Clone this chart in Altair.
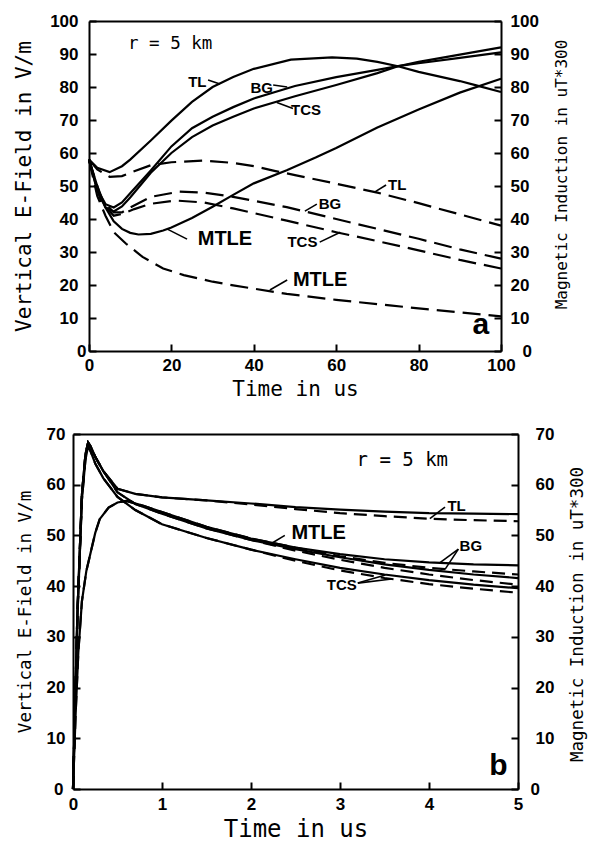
import altair as alt
import pandas as pd

# ================= panel a : 0 - 100 us =================
A_TL_E_T = [0, 2, 5, 8, 10, 15, 20, 25, 30, 35, 40, 49, 59, 65, 70, 75, 80, 90, 94, 100]
A_TL_E_V = [58, 55.5, 54.2, 56, 58, 63.8, 69.8, 75.5, 80, 83, 85.5, 88.3, 89, 88.6, 87.6, 86.3, 84.6, 81.8, 80.5, 78.5]
A_BG_E_T = [0, 2, 4, 6, 8, 10, 15, 20, 25, 30, 35, 40, 50, 60, 70, 75, 80, 90, 100]
A_BG_E_V = [58, 49, 44.5, 43.5, 45, 47.8, 54.7, 62, 67.5, 71, 73.9, 76.5, 80.3, 83, 85.2, 86.3, 87.2, 88.8, 90.5]
A_TCS_E_T = [0, 2, 4, 6, 8, 10, 15, 20, 25, 30, 35, 40, 50, 60, 70, 75, 80, 90, 100]
A_TCS_E_V = [58, 48.5, 43.5, 42.3, 43.8, 46.5, 54, 60, 64.8, 68.3, 71, 73.5, 77.2, 80.6, 84.2, 86.3, 87.6, 89.8, 92]
A_MTLE_E_T = [0, 2, 4, 6, 8, 10, 12, 15, 18, 20, 25, 30, 35, 40, 48, 55, 60, 70, 80, 90, 100]
A_MTLE_E_V = [58, 50, 43.5, 39.3, 37, 35.8, 35.3, 35.5, 36.5, 37.4, 40.3, 43.7, 47.3, 50.8, 54.8, 58.6, 61.5, 67.7, 73.2, 78.3, 82.5]

A_TL_B_T = [0, 2, 5, 8, 10, 15, 20, 28, 35, 40, 45, 50, 60, 70, 80, 90, 100]
A_TL_B_V = [58, 55, 52.8, 53, 54, 56.3, 57.2, 57.7, 57, 56, 54.6, 53.3, 50.7, 48, 44.8, 41.4, 38]
A_BG_B_T = [0, 3, 6, 8, 10, 15, 22, 28, 35, 40, 48, 60, 70, 80, 90, 100]
A_BG_B_V = [58, 46, 42, 42, 43.5, 46.7, 48.3, 48, 46.7, 45.5, 43.6, 40, 37, 34, 30.8, 28]
A_TCS_B_T = [0, 3, 6, 8, 11, 15, 21, 28, 35, 40, 48, 60, 70, 80, 90, 100]
A_TCS_B_V = [58, 45, 41, 41.5, 43, 44.6, 45.6, 45, 43.2, 41.8, 39.5, 36, 33.3, 30.5, 27.6, 25]
A_MTLE_B_T = [0, 2, 4, 6, 9, 13, 18, 23, 30, 35, 48, 60, 73, 85, 100]
A_MTLE_B_V = [58, 47, 41, 36, 32.5, 28.5, 25, 23, 21, 19.9, 17.3, 15.5, 13.8, 12.3, 10.5]

A_NOTE_TEXT = ["TL", "BG", "TCS", "TL", "BG", "TCS"]
A_NOTE_T = [26.3, 41.9, 52.7, 74.8, 58.5, 51.8]
A_NOTE_V = [81.5, 79.7, 73.0, 50.3, 44.5, 33.0]
A_BIG_TEXT = ["MTLE", "MTLE"]
A_BIG_T = [33.0, 56.1]
A_BIG_V = [34.0, 21.5]
A_MONO_TEXT = ["r = 5 km"]
A_MONO_T = [19.7]
A_MONO_V = [93.0]
A_LETTER_TEXT = ["a"]
A_LETTER_T = [95.1]
A_LETTER_V = [7.9]
A_LEAD_T1 = [28.9, 44.7, 45.6, 18.9, 56.0, 52.4, 69.4, 43.9]
A_LEAD_V1 = [82.1, 80.6, 75.3, 37.0, 33.0, 42.4, 48.2, 18.5]
A_LEAD_T2 = [31.8, 48.1, 49.5, 23.8, 61.0, 55.3, 72.1, 48.1]
A_LEAD_V2 = [80.9, 80.0, 73.5, 33.9, 36.0, 44.5, 50.3, 21.5]

A_XTICKS = [0, 20, 40, 60, 80, 100]
A_YTICKS = [0, 10, 20, 30, 40, 50, 60, 70, 80, 90, 100]

# ================= panel b : 0 - 5 us =================
B_T = [0, 0.05, 0.1, 0.14, 0.17, 0.2, 0.25, 0.34, 0.5, 0.7, 1, 1.5, 2, 2.5, 3, 3.5, 4, 4.5, 5]
B_TL_E_V = [0, 35, 58, 66, 68.3, 67.5, 65.5, 62.7, 59.2, 58.2, 57.5, 56.9, 56.3, 55.6, 55.1, 54.7, 54.4, 54.3, 54.2]
B_MTLE_E_V = [0, 35, 58, 66, 68.3, 67.5, 65.5, 62.7, 58.5, 56.2, 54.3, 51.4, 49.1, 47.3, 45.7, 44.3, 43.2, 42.3, 41.6]
B_TCS_E_V = [0, 34, 57, 65, 67.6, 66.5, 64.2, 61.3, 57.6, 55, 52.2, 49.5, 47.2, 45.3, 43.6, 42.3, 41.2, 40.3, 39.6]
B_TL_B_V = [0, 35, 58, 66, 68.3, 67.5, 65.5, 62.7, 59.2, 58.2, 57.5, 56.9, 56.1, 55.2, 54.4, 53.8, 53.3, 53.0, 52.8]
B_MTLE_B_V = [0, 35, 58, 66, 68.3, 67.5, 65.5, 62.7, 58.5, 56.2, 54.3, 51.4, 49.1, 47.0, 45.2, 43.6, 42.3, 41.2, 40.3]
B_TCS_B_V = [0, 34, 57, 65, 67.6, 66.5, 64.2, 61.3, 57.6, 55, 52.2, 49.5, 47.2, 45.0, 43.1, 41.6, 40.4, 39.5, 38.7]
B_BG_T = [0, 0.03, 0.06, 0.1, 0.15, 0.19, 0.25, 0.3, 0.4, 0.5, 0.6, 0.8, 1, 1.5, 2, 2.5, 3, 3.5, 4, 4.5, 5]
B_BG_E_V = [0, 15, 27, 37, 43, 46, 50.5, 53.2, 55.5, 56.5, 56.8, 55.8, 54.6, 51.7, 49.4, 47.6, 46.3, 45.3, 44.7, 44.3, 44.1]
B_BG_B_V = [0, 15, 27, 37, 43, 46, 50.5, 53.2, 55.5, 56.5, 56.8, 55.8, 54.6, 51.7, 49.4, 47.6, 45.9, 44.6, 43.6, 42.9, 42.3]

B_NOTE_TEXT = ["TL", "BG", "TCS"]
B_NOTE_T = [4.31, 4.47, 3.02]
B_NOTE_V = [55.8, 47.9, 40.2]
B_BIG_TEXT = ["MTLE"]
B_BIG_T = [2.76]
B_BIG_V = [50.5]
B_MONO_TEXT = ["r = 5 km"]
B_MONO_T = [3.70]
B_MONO_V = [64.9]
B_LETTER_TEXT = ["b"]
B_LETTER_T = [4.78]
B_LETTER_V = [4.5]
B_LEAD_T1 = [4.01, 2.21, 4.12, 4.18, 3.20, 3.20]
B_LEAD_V1 = [53.3, 48.2, 44.6, 43.3, 40.6, 40.6]
B_LEAD_T2 = [4.18, 2.38, 4.33, 4.33, 3.51, 3.58]
B_LEAD_V2 = [55.6, 50.0, 47.3, 47.3, 42.2, 41.4]

B_XTICKS = [0, 1, 2, 3, 4, 5]
B_YTICKS = [0, 10, 20, 30, 40, 50, 60, 70]


def series(pairs):
    rows = []
    for name, ts, vs in pairs:
        for i, (t, v) in enumerate(zip(ts, vs)):
            rows.append({"model": name, "t": t, "v": v, "i": i})
    return pd.DataFrame(rows)


def points(texts, ts, vs):
    return pd.DataFrame({"label": texts, "t": ts, "v": vs})


def leaders(t1, v1, t2, v2):
    return pd.DataFrame({"t": t1, "v": v1, "t2": t2, "v2": v2})


LABEL_FONT = "Liberation Sans"
MONO = "DejaVu Sans Mono"


def sc(dom, rng=None):
    if rng is None:
        return alt.Scale(domain=dom, nice=False, zero=False)
    return alt.Scale(domain=dom, range=rng, nice=False, zero=False)


def zero_pad(zero_value, other):
    return {"condition": {"test": "datum.value === 0", "value": zero_value}, "value": other}


def panel(e_df, b_df, notes, big, mono, letter, lead, cfg):
    xdom, ydom, xr = cfg["xdom"], cfg["ydom"], cfg["xrange"]
    lab = dict(labelFont=LABEL_FONT, labelFontSize=17, labelFontWeight="bold",
               labelColor="black", labelFlush=False, labelOverlap=False)
    ttl = dict(titleFont=MONO, titleFontWeight="normal", titleColor="black")
    dom = dict(domain=True, domainWidth=2, domainColor="black")
    tk = dict(ticks=True, tickSize=7, tickWidth=2, tickColor="black",
              labels=False, domain=False, grid=False, title="")

    ax_x_main = alt.Axis(orient="bottom", values=cfg["xticks"], ticks=False, tickSize=0,
                         grid=False, labelPadding=cfg["xlabpad"], title="Time in us",
                         titleFontSize=cfg["xtitle"], titlePadding=cfg["xtitlepad"],
                         **lab, **ttl, **dom)
    ax_x_top = alt.Axis(orient="top", ticks=False, tickSize=0, labels=False, grid=False,
                        title="", **dom)
    ax_x_tk = alt.Axis(orient="bottom", offset=-7, values=cfg["xticks"], **tk)
    ax_y_left = alt.Axis(orient="left", offset=-cfg["loff"], values=cfg["yticks"], ticks=False,
                         tickSize=0, grid=False,
                         labelPadding=zero_pad(cfg["lzero"], cfg["llabpad"]),
                         title="Vertical E-Field in V/m", titleFontSize=cfg["ltitle"],
                         titlePadding=cfg["ltitlepad"], **lab, **ttl, **dom)
    ax_y_left_tk = alt.Axis(orient="left", offset=-(cfg["loff"] + 7), values=cfg["yticks"], **tk)
    ax_y_right = alt.Axis(orient="right", offset=-cfg["roff"], values=cfg["yticks"], ticks=False,
                          tickSize=0, grid=False,
                          labelPadding=zero_pad(cfg["rzero"], cfg["rlabpad"]),
                          title="Magnetic Induction in uT*300", titleFontSize=cfg["rtitle"],
                          titlePadding=cfg["rtitlepad"], titleAngle=270, titleBaseline="top",
                          titleY=cfg["rtitley"], **lab, **ttl, **dom)
    ax_y_right_tk = alt.Axis(orient="right", offset=-(cfg["roff"] + 7), values=cfg["yticks"], **tk)

    def X(axis):
        return alt.X("t:Q", scale=sc(xdom, xr), axis=axis)

    def Y(axis):
        return alt.Y("v:Q", scale=sc(ydom), axis=axis)

    solid = alt.Chart(e_df).mark_line(color="black", strokeWidth=2.2).encode(
        x=X(ax_x_main), y=Y(ax_y_left), detail="model:N", order="i:Q")
    dashed = alt.Chart(b_df).mark_line(color="black", strokeWidth=2.2,
                                       strokeDash=cfg["dash"]).encode(
        x=X(ax_x_top), y=Y(ax_y_right), detail="model:N", order="i:Q")
    rules = alt.Chart(lead).mark_rule(color="black", strokeWidth=1.6).encode(
        x=X(ax_x_tk), x2="t2:Q", y=Y(ax_y_left_tk), y2="v2:Q")
    t_notes = alt.Chart(notes).mark_text(font=LABEL_FONT, fontWeight="bold", fontSize=15,
                                         color="black", align="center", baseline="middle").encode(
        x=X(None), y=Y(ax_y_right_tk), text="label:N")
    t_big = alt.Chart(big).mark_text(font=LABEL_FONT, fontWeight="bold", fontSize=20,
                                     color="black", align="center", baseline="middle").encode(
        x=X(None), y=Y(None), text="label:N")
    t_mono = alt.Chart(mono).mark_text(font=MONO, fontSize=cfg["mono"], color="black",
                                       align="center", baseline="middle").encode(
        x=X(None), y=Y(None), text="label:N")
    t_letter = alt.Chart(letter).mark_text(font=LABEL_FONT, fontWeight="bold", fontSize=30,
                                           color="black", align="center", baseline="middle").encode(
        x=X(None), y=Y(None), text="label:N")
    return alt.layer(solid, dashed, rules, t_notes, t_big, t_mono, t_letter).resolve_scale(
        x="independent", y="independent").properties(width=cfg["w"], height=cfg["h"])


a_e = series([("TL", A_TL_E_T, A_TL_E_V), ("BG", A_BG_E_T, A_BG_E_V),
              ("TCS", A_TCS_E_T, A_TCS_E_V), ("MTLE", A_MTLE_E_T, A_MTLE_E_V)])
a_b = series([("TL", A_TL_B_T, A_TL_B_V), ("BG", A_BG_B_T, A_BG_B_V),
              ("TCS", A_TCS_B_T, A_TCS_B_V), ("MTLE", A_MTLE_B_T, A_MTLE_B_V)])
b_e = series([("TL", B_T, B_TL_E_V), ("MTLE", B_T, B_MTLE_E_V),
              ("TCS", B_T, B_TCS_E_V), ("BG", B_BG_T, B_BG_E_V)])
b_b = series([("TL", B_T, B_TL_B_V), ("MTLE", B_T, B_MTLE_B_V),
              ("TCS", B_T, B_TCS_B_V), ("BG", B_BG_T, B_BG_B_V)])

top = panel(a_e, a_b,
            points(A_NOTE_TEXT, A_NOTE_T, A_NOTE_V), points(A_BIG_TEXT, A_BIG_T, A_BIG_V),
            points(A_MONO_TEXT, A_MONO_T, A_MONO_V), points(A_LETTER_TEXT, A_LETTER_T, A_LETTER_V),
            leaders(A_LEAD_T1, A_LEAD_V1, A_LEAD_T2, A_LEAD_V2),
            dict(xdom=[0, 100], ydom=[0, 100], xrange=[16, 428], w=445, h=330,
                 xticks=A_XTICKS, yticks=A_YTICKS, loff=16, roff=17,
                 xlabpad=6, xtitle=21, xtitlepad=5,
                 llabpad=11, lzero=3, ltitle=21, ltitlepad=15,
                 rlabpad=9, rzero=21, rtitle=16, rtitlepad=15, rtitley=153,
                 dash=[18, 8], mono=17.5))

bottom = panel(b_e, b_b,
               points(B_NOTE_TEXT, B_NOTE_T, B_NOTE_V), points(B_BIG_TEXT, B_BIG_T, B_BIG_V),
               points(B_MONO_TEXT, B_MONO_T, B_MONO_V), points(B_LETTER_TEXT, B_LETTER_T, B_LETTER_V),
               leaders(B_LEAD_T1, B_LEAD_V1, B_LEAD_T2, B_LEAD_V2),
               dict(xdom=[0, 5], ydom=[0, 70], xrange=[0, 445], w=445, h=355,
                    xticks=B_XTICKS, yticks=B_YTICKS, loff=0, roff=0,
                    xlabpad=7, xtitle=24, xtitlepad=5,
                    llabpad=8, lzero=10, ltitle=17.5, ltitlepad=12,
                    rlabpad=17, rzero=12, rtitle=17.5, rtitlepad=15, rtitley=180,
                    dash=[13, 7], mono=19))

chart = alt.vconcat(top, bottom, spacing=26).properties(
    padding={"left": 13, "top": 12, "right": 5, "bottom": 3},
    background="white",
).configure_view(strokeWidth=0)

chart.save("out.html", embed_options={"renderer": "svg", "actions": False})
